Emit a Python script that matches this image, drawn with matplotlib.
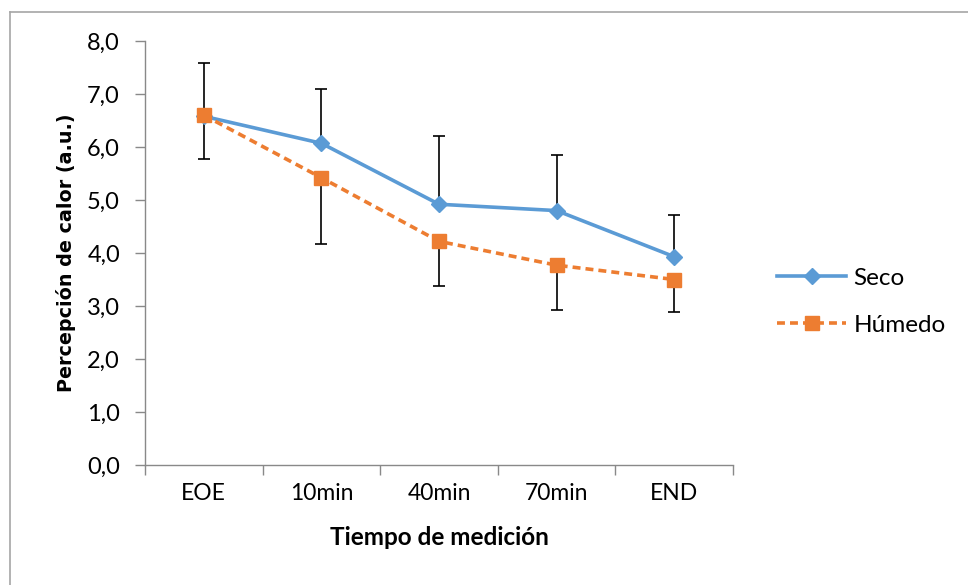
import matplotlib
matplotlib.use("Agg")
import matplotlib.pyplot as plt
from matplotlib.lines import Line2D

categories = ["EOE", "10min", "40min", "70min", "END"]
seco = [6.58, 6.07, 4.92, 4.80, 3.93]
seco_err = [1.00, 1.02, 1.29, 1.05, 0.78]
humedo = [6.60, 5.42, 4.22, 3.77, 3.50]
humedo_err = [0.83, 1.25, 0.84, 0.85, 0.61]
yticks = [0, 1, 2, 3, 4, 5, 6, 7, 8]

plt.rcParams['font.family'] = ['Lato', 'DejaVu Sans']

W, H = 968, 585
fig = plt.figure(figsize=(W/100, H/100), dpi=100)
ax = fig.add_axes([145/W, 1-465/H, (733-145)/W, (465-41)/H])

x = list(range(len(categories)))
blue = '#5B9BD5'
orange = '#ED7D31'

# error bars: upper for Seco, lower for Humedo
ax.errorbar(x, seco, yerr=[[0]*5, seco_err], fmt='none', ecolor='black',
            elinewidth=1.2, capsize=4.5, capthick=1.2, zorder=2)
ax.errorbar(x, humedo, yerr=[humedo_err, [0]*5], fmt='none', ecolor='black',
            elinewidth=1.2, capsize=4.5, capthick=1.2, zorder=2)

ax.plot(x, seco, color=blue, lw=2.6, marker='D', ms=8, mfc=blue, mec=blue,
        label='Seco', zorder=3)
ax.plot(x, humedo, color=orange, lw=2.6, ls=(0, (2.2, 1.4)), marker='s', ms=10,
        mfc=orange, mec=orange, label='Húmedo', zorder=4)

ax.set_xlim(-0.5, 4.5)
ax.set_ylim(0, 8)
ax.set_yticks(yticks)
ax.set_yticklabels([f"{v:.1f}".replace('.', ',') for v in yticks], fontsize=17)
ax.set_xticks(x)
ax.set_xticklabels(categories, fontsize=16.5)
ax.set_xticks([i - 0.5 for i in range(len(categories) + 1)], minor=True)
ax.tick_params(axis='x', which='major', length=0, pad=13)
ax.tick_params(axis='x', which='minor', length=7, color='#898989', width=1)
ax.tick_params(axis='y', length=7, color='#898989', width=1, pad=11)

for s in ['top', 'right']:
    ax.spines[s].set_visible(False)
for s in ['left', 'bottom']:
    ax.spines[s].set_color('#898989')
    ax.spines[s].set_linewidth(1)

ax.set_xlabel('Tiempo de medición', fontsize=17.5, fontweight='bold', labelpad=16)
ax.set_ylabel('Percepción de calor (a.u.)', fontsize=13.8, fontweight='bold',
              labelpad=8, family=['DejaVu Sans'])

leg = fig.legend(loc='upper left', bbox_to_anchor=(755/W, 1-246/H), frameon=False,
                 fontsize=17.5, handlelength=2.85, labelspacing=1.07, handletextpad=0.3)

# outer border
fig.add_artist(Line2D([10/W, 10/W], [0, 1-12/H], transform=fig.transFigure,
                      color='#a6a6a6', lw=1.2))
fig.add_artist(Line2D([10/W, 1], [1-12/H, 1-12/H], transform=fig.transFigure,
                      color='#a6a6a6', lw=1.2))

fig.savefig('out.png', dpi=100)
